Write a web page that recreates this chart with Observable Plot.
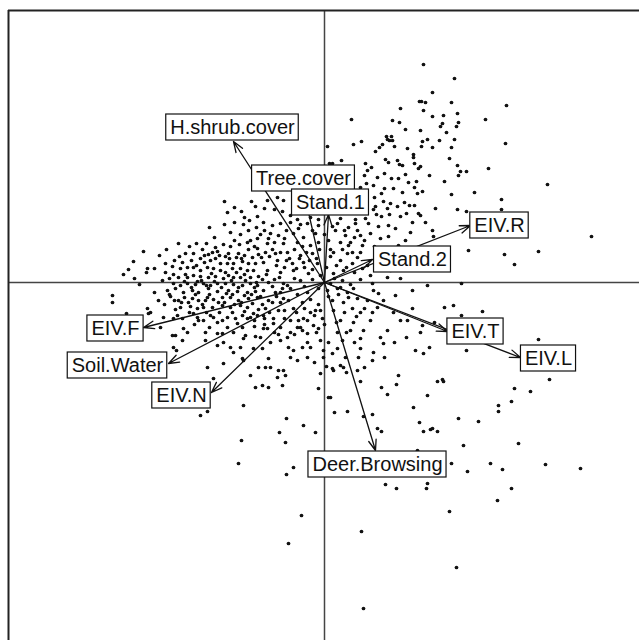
<!DOCTYPE html>
<html>
<head>
<meta charset="utf-8">
<script src="https://cdn.jsdelivr.net/npm/d3@7"></script>
<script src="https://cdn.jsdelivr.net/npm/@observablehq/plot@0.6"></script>
<style>
  html, body { margin: 0; padding: 0; background: #fff; }
  svg { display: block; }
</style>
</head>
<body>
<script>
// Site scores (axis 1, axis 2) (arbitrary units, origin = centre of the biplot)
const siteScores = [
  [99,218],[130,204],[108,190],[97,181],[101,180],[127,180],[182,177],[99,172],[108,166],[119,167],
  [133,169],[161,163],[134,160],[118,159],[116,156],[132,156],[122,150],[96,152],[103,143],[98,141],
  [115,142],[130,143],[181,139],[97,136],[108,135],[127,135],[125,124],[96,116],[133,117],[164,114],
  [136,111],[142,111],[134,107],[105,107],[120,101],[223,98],[98,91],[127,88],[150,90],[177,83],
  [111,74],[133,73],[142,71],[177,73],[96,67],
  [108,52],[109,46],[144,32],[180,28],[190,18],[214,31],[267,46],[103,-3],[137,-1],[129,-23],
  [137,-33],[158,-29],[98,-43],[105,-65],[99,-71],[142,-68],[214,-57],[225,-97],[118,-97],
  [36,-99],[57,-105],[72,-102],[63,-112],[6,-115],[10,-130],[23,-129],[39,-134],[48,-132],[53,-146],
  [57,-149],[89,-125],[95,-140],[99,-149],[106,-147],[108,-146],[113,-149],[103,-113],[113,-99],[119,-99],
  [134,-136],[154,-139],[139,-163],[174,-123],[174,-129],[187,-119],[190,-106],[206,-109],[194,-161],
  [93,-168],[127,-181],[143,-189],[166,-181],[178,-187],[221,-182],[256,-186],[61,-202],[72,-206],
  [103,-201],[102,-206],[187,-206],[173,-218],[125,-229],[37,-249],[132,-285],[39,-326],
  [-69,-105],[-62,-103],[-56,-105],[-42,-103],[-6,-106],[-81,-123],[-124,-133],[-117,-129],[-38,-136],
  [-21,-143],[-45,-150],[-9,-150],[-83,-158],[-39,-160],[-86,-181],[-31,-185],[-38,-192],[-23,-233],[-36,-261],
  [-100,81],[-97,70],[-90,75],[-83,71],[-73,81],[-69,76],[-80,65],[-67,66],
  [27,163],[76,174],[68,162],[75,160],[81,153],[95,181],[37,141],[29,138],[3,136],[17,122],
  [5,119],[8,119],[41,119],[43,112],[47,115],[51,131],[55,135],[58,138],[63,143],[67,146],
  [65,142],[62,146],[68,142],[70,136],[83,134],[61,123],[64,120],[73,122],[75,118],[78,117],
  [89,128],[89,125],[90,119],[94,114],[81,108],[84,100],[74,104],[67,104],[60,109],[53,105],
  [49,97],[40,107],[42,99],[36,95],[60,94],[69,94],[78,90],[92,101],[90,95],[93,89],
  [57,89],[50,85],[59,81],[66,79],[51,76],[49,73],[63,74],[73,76],[80,80],[85,77],
  [90,77],[82,69],[76,66],[65,68],[57,66],[52,68],[94,69],[-57,82],[-47,85],[-41,82],
  [-60,74],[-50,73],[-42,71],
  [-115,55],[-100,58],[-94,50],[-84,48],[-81,58],[-76,52],[-68,55],[-77,40],[-67,44],[-146,39],
  [-128,39],[-118,39],[-109,35],[-101,38],[-107,31],[-96,29],[-86,29],[-76,33],[-67,34],[-181,31],
  [-139,29],[-131,29],[-124,24],[-120,20],[-114,22],[-109,24],[-104,19],[-97,19],[-91,19],[-82,21],
  [-76,19],[-69,19],[-191,21],[-196,13],[-177,14],[-159,19],[-152,16],[-144,14],[-137,15],[-131,15],
  [-124,12],[-117,15],[-111,14],[-104,12],[-99,10],[-92,14],[-84,14],[-77,12],[-71,12],[-201,8],
  [-159,10],[-151,8],[-146,5],[-137,5],[-131,7],[-124,6],[-116,5],[-109,6],[-101,4],[-91,5],
  [-84,5],[-74,5],[-66,6],[-151,-1],[-144,-3],[-137,-1],[-129,-2],[-121,-1],[-114,-3],[-107,-1],
  [-99,-1],[-91,-2],[-82,-3],[-74,-1],[-67,-3],[-212,-13],[-212,-20],[-157,-8],[-149,-6],[-141,-10],
  [-132,-8],[-126,-10],[-116,-6],[-107,-9],[-96,-8],[-87,-9],[-77,-10],[-69,-9],[-166,-18],[-154,-14],
  [-146,-18],[-140,-15],[-132,-16],[-126,-18],[-117,-15],[-111,-17],[-102,-15],[-94,-15],[-86,-18],[-76,-16],
  [-67,-15],[-177,-26],[-174,-30],[-149,-27],[-144,-25],[-134,-24],[-127,-26],[-121,-25],[-112,-25],[-102,-23],
  [-94,-25],[-84,-23],[-77,-25],[-198,-31],[-161,-35],[-147,-33],[-142,-36],[-127,-35],[-121,-38],[-111,-35],
  [-102,-38],[-97,-35],[-89,-36],[-82,-33],[-74,-35],[-67,-33],[-164,-45],[-149,-53],[-137,-50],[-119,-50],
  [-107,-51],[-91,-50],[-79,-53],[-69,-54],[-151,-65],[-148,-68],[-142,-58],[-119,-58],[-107,-63],[-94,-65],
  [-81,-56],[-71,-66],[-117,-85],[-101,-81],[-82,-76],[-74,-93],[-66,-85],[-111,-96],
  [-176,-31],[-151,-36],[-131,-31],[-126,-38],[-114,-33],[-107,-40],[-87,-41],[-77,-36],[-71,-31],[-61,-33],
  [-51,-41],[-44,-45],[-34,-38],[-27,-45],[-21,-36],[-11,-43],[-152,-53],[-141,-46],[-102,-51],[-57,-46],
  [-37,-55],[-17,-51],[-4,-58],[4,-60],[-101,-60],[-84,-65],[-54,-60],[-36,-65],[-31,-68],[-14,-65],
  [-1,-68],[8,-71],[-91,-70],[-81,-78],[-54,-85],[-46,-88],[-41,-88],[-47,-95],[-27,-78],[-17,-75],
  [-4,-91],[-1,-75],[9,-88],[4,-115],
  [-61,60],[-44,59],[-34,60],[-24,58],[-17,59],[-6,57],[13,59],[24,55],[31,59],[44,59],
  [54,56],[64,57],[-54,49],[-46,47],[-31,49],[-21,45],[-9,49],[11,52],[21,47],[36,47],
  [46,49],[-57,39],[-41,39],[-27,40],[-14,37],[4,42],[16,40],[26,40],[38,37],[-59,30],
  [-49,29],[-37,30],[-24,27],[-12,29],[9,30],[23,29],[33,25],[36,30],[-61,20],[-47,22],
  [-32,19],[-21,20],[-7,19],[16,22],[28,19],[43,17],[-57,12],[-44,10],[-31,12],[-16,9],
  [-4,7],[9,9],[19,12],[46,7],[63,5],[-56,0],[-41,-1],[-24,2],[6,-1],[16,-5],
  [48,-1],[-61,-8],[-49,-10],[-34,-6],[-17,-10],[3,-8],[13,-6],[23,-10],[29,-6],[49,-8],
  [54,-11],[-56,-18],[-41,-16],[-22,-20],[8,-18],[19,-20],[33,-16],[43,-18],[59,-18],[88,-26],
  [-59,-26],[-46,-28],[-31,-26],[-9,-28],[9,-28],[28,-26],[36,-30],[53,-25],[69,-30],[76,-38],
  [-51,-36],[-17,-38],[-2,-36],[16,-38],[29,-40],[46,-38],[63,-48],[83,-38],[-61,-46],[-34,-50],
  [-24,-45],[-6,-46],[13,-50],[26,-48],[39,-48],[56,-55],[-17,-60],[18,-58],[36,-56],[59,-61],
  [91,-68],[-62,-66],[-22,-65],[13,-66],[36,-66],[49,-70],[-56,-76],[-34,-75],[21,-75],[34,-75],
  [48,-78],[-59,-85],[8,-86],[16,-83],[19,-85],[33,-88],[74,-93],[-39,-93],
  [-34,67],[-27,63],[-14,65],[-6,63],[16,64],[31,63],[41,64],
  [71,54],[81,42],[88,60],[74,37],[64,46],[86,50],[101,60],[76,4],[88,-8],[71,-13],
  [-150,22],[-142,20],[-128,17],[-120,27],[-112,30],[-105,27],[-95,24],[-88,25],[-80,27],[-72,25],
  [-63,25],[-55,26],[-48,17],[-40,15],[-35,24],[-28,14],[-20,15],[-12,13],[-8,24],[2,15],
  [12,17],[22,15],[30,10],[38,14],
  [-162,2],[-155,4],[-140,1],[-133,-5],[-123,2],[-118,-3],[-110,1],[-103,-5],[-93,2],[-86,-5],
  [-79,2],[-70,-5],[-62,3],[-52,-4],[-45,5],[-37,-3],[-30,4],[-20,-4],[-12,3],[-6,-6],
  [10,4],[18,2],[26,-2],[36,3],
  [-170,-10],[-160,-22],[-150,-18],[-136,-20],[-122,-22],[-115,-12],[-106,-20],[-98,-11],[-90,-22],[-80,-13],
  [-72,-21],[-64,-14],[-52,-20],[-44,-10],[-36,-18],[-27,-12],[-14,-17],[-6,-22],[4,-14],[14,-12],[24,-15],
  [-185,-2],[-178,10],[-190,4],[-170,14],[-165,27],[-158,33],[-135,36],[-122,33],[-94,36],[-85,38],
  [-74,42],[-64,48],[-50,40],[-44,30],[-30,33],[-18,30],[-5,33],[6,26],[18,33],[28,30],
  [-90,60],[-75,62],[-60,52],[-52,57],[-38,52],[-26,54],[-12,52],[0,48],[8,56],[20,52],
  [33,52],[40,42],[50,36],[56,44],[60,30],[68,24],[55,15],[66,12],
  [-40,-28],[-28,-30],[-20,-26],[-4,-28],[-44,-20],[-10,-33],[0,-42],[-30,-52],[-44,-58],[-64,-55],
  [-70,-44],[-60,-36],[-50,-50],[20,-30],[32,-34],[40,-26],[48,-30],[22,-50],[30,-60],
  [-145,26],[-133,22],[-116,28],[-99,26],[-83,24],[-66,28],[-52,33],[-38,22],[-25,24],[-15,22],
  [-155,-12],[-143,-20],[-129,-12],[-119,-18],[-100,-20],[-92,-12],[-83,-20],[-73,-12],[-62,-22],[-48,-14],
  [-139,8],[-127,1],[-113,9],[-96,7],[-88,10],[-80,8],[-68,0],[-58,8],[-50,3],[-42,-6],
  [-135,-30],[-118,-30],[-105,-30],[-92,-30],[-80,-29],[-66,-27],[-55,-30],[-40,-36],[-26,-38],[-14,-30],
  [-130,-42],[-115,-45],[-97,-45],[-82,-45],[-70,-38],[-60,-42],[-46,-52],[-22,-48],[-8,-50],[12,-40],
  [-110,45],[-90,42],[-70,36],[-56,44],[-40,44],[-22,36],[-6,40],[6,33],[24,37],[30,45],
  [-10,-80],[2,-84],[22,-90],[40,-85],[60,-75],[70,-60],[82,-55],[96,-50],[110,-40],[120,-25]
];

// Environmental variables: arrow end (axis 1, axis 2) and label position
const varNames = ["H.shrub.cover","Tree.cover","Stand.1","Stand.2","EIV.R","EIV.T","EIV.L","EIV.F","Soil.Water","EIV.N","Deer.Browsing"];
const varX     = [-91, -21,   4,  48, 146, 123, 196, -181, -156, -113,   51];
const varY     = [141,  92,  68,  23,  57, -49, -75,  -45,  -81, -110, -168];
const labelX   = [-92, -21,   6,  88, 175, 151, 224, -209, -207, -143,   53];
const labelY   = [155, 104,  80,  23,  57, -49, -76,  -46,  -83, -113, -182];

// Extent of the plotting region (same units)
const xExtent = [-316, 315];
const yExtent = [-358, 272];

const points = siteScores.map(([x, y]) => ({x, y}));
const vectors = varNames.map((name, i) => ({name, x: varX[i], y: varY[i], lx: labelX[i], ly: labelY[i]}));

const FONT = "'Liberation Sans', Arial, Helvetica, sans-serif";

const chart = Plot.plot({
  width: 639,
  height: 640,
  marginTop: 10,
  marginLeft: 8,
  marginRight: 0,
  marginBottom: 0,
  x: {domain: xExtent, axis: null},
  y: {domain: yExtent, axis: null},
  style: {background: "white", fontFamily: FONT},
  marks: [
    Plot.ruleY([0], {stroke: "#444", strokeWidth: 1.5}),
    Plot.ruleX([0], {stroke: "#444", strokeWidth: 1.5}),
    Plot.ruleX([xExtent[0]], {stroke: "#222", strokeWidth: 2}),
    Plot.ruleY([yExtent[1]], {stroke: "#222", strokeWidth: 2}),
    Plot.dot(points, {x: "x", y: "y", r: 1.85, fill: "#111", stroke: null}),
    Plot.arrow(vectors, {
      x1: () => 0, y1: () => 0, x2: "x", y2: "y",
      stroke: "#111", strokeWidth: 1.3, headLength: 13, headAngle: 40
    }),
    Plot.text(vectors, {
      x: "lx", y: "ly", text: "name",
      fontSize: 20, fill: "#111", fontFamily: FONT,
      textAnchor: "middle", lineAnchor: "middle",
      className: "var-labels"
    })
  ]
});

document.body.append(chart);

// Draw the white label boxes behind each label text
(function addBoxes() {
  const svgNS = "http://www.w3.org/2000/svg";
  const g = chart.querySelector("g.var-labels");
  if (!g) return;
  const sx = chart.scale("x"), sy = chart.scale("y");
  const texts = g.querySelectorAll("text");
  const boxes = document.createElementNS(svgNS, "g");
  texts.forEach((t, i) => {
    const d = vectors[i];
    const w = t.getComputedTextLength();
    const cx = sx.apply(d.lx), cy = sy.apply(d.ly);
    const r = document.createElementNS(svgNS, "rect");
    r.setAttribute("x", cx - w / 2 - 4);
    r.setAttribute("y", cy - 13);
    r.setAttribute("width", w + 8);
    r.setAttribute("height", 26);
    r.setAttribute("fill", "white");
    r.setAttribute("stroke", "#111");
    r.setAttribute("stroke-width", 1.2);
    boxes.appendChild(r);
  });
  g.parentNode.insertBefore(boxes, g);
})();
</script>
</body>
</html>
